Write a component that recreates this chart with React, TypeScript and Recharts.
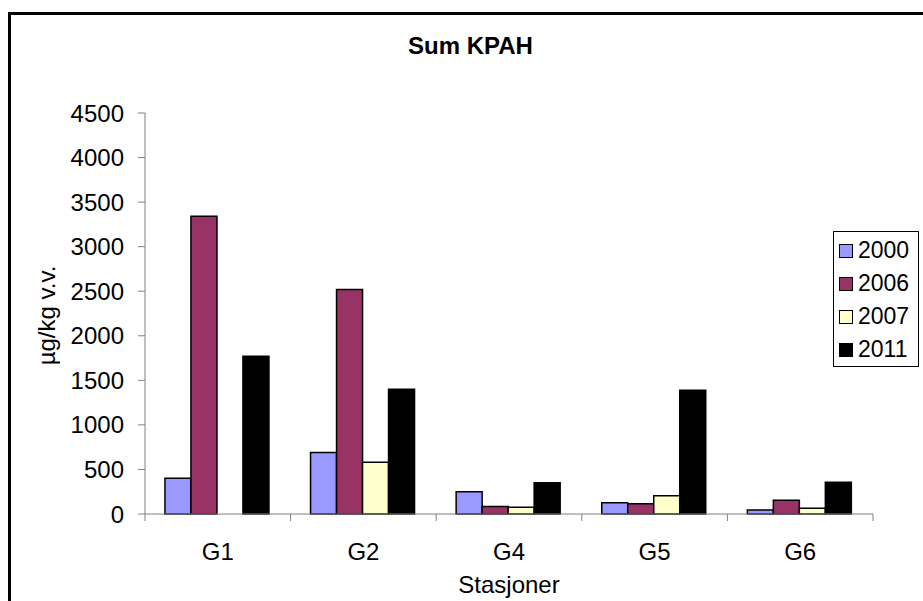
import { Bar, BarChart, Label, Legend, XAxis, YAxis } from "recharts"

const stations = ["G1", "G2", "G4", "G5", "G6"]
const years = ["2000", "2006", "2007", "2011"]
const values2000 = [400, 690, 250, 125, 45]
const values2006 = [3340, 2520, 85, 115, 155]
const values2007 = [null, 580, 75, 205, 65]
const values2011 = [1770, 1400, 350, 1390, 355]
const yTicks = [0, 500, 1000, 1500, 2000, 2500, 3000, 3500, 4000, 4500]
const colors = ["#9999FF", "#993366", "#FFFFCC", "#000000"]

const data = stations.map((station, i) => ({
  station,
  "2000": values2000[i],
  "2006": values2006[i],
  "2007": values2007[i],
  "2011": values2011[i],
}))

const FONT = "'Liberation Sans', Arial, sans-serif"
const AXIS = "#808080"

const StationTick = (props: any) => {
  const { x, y, payload, index, visibleTicksCount } = props
  const half = payload.offset ?? 72.8
  return (
    <g>
      <line x1={x - half} x2={x - half} y1={y - 7} y2={y} stroke={AXIS} />
      {index === visibleTicksCount - 1 && (
        <line x1={x + half} x2={x + half} y1={y - 7} y2={y} stroke={AXIS} />
      )}
      <text x={x} y={y + 39} textAnchor="middle" fontSize={24} fill="#000" fontFamily={FONT}>
        {payload.value}
      </text>
    </g>
  )
}

const YTitle = (props: any) => {
  const vb = props.viewBox || {}
  const cy = vb.height ? vb.y + vb.height / 2 + 2 : 315
  return (
    <text
      x={46}
      y={cy}
      transform={`rotate(-90 46 ${cy})`}
      textAnchor="middle"
      dominantBaseline="central"
      fontSize={24}
      fill="#000"
      fontFamily={FONT}
    >
      µg/kg v.v.
    </text>
  )
}

const XTitle = (props: any) => {
  const vb = props.viewBox || {}
  const cx = vb.width ? vb.x + vb.width / 2 : 509
  return (
    <text x={cx} y={593} textAnchor="middle" fontSize={24} fill="#000" fontFamily={FONT}>
      Stasjoner
    </text>
  )
}

const LegendBox = () => (
  <div
    style={{
      boxSizing: "border-box",
      width: 86,
      height: 136,
      border: "1px solid #000",
      background: "#fff",
      padding: "2px 0 0 5px",
      fontFamily: FONT,
      fontSize: 23,
      color: "#000",
    }}
  >
    {years.map((year, i) => (
      <div key={year} style={{ height: 33, display: "flex", alignItems: "center" }}>
        <span
          style={{
            boxSizing: "border-box",
            width: 14,
            height: 14,
            border: "1px solid #000",
            background: colors[i],
            marginRight: 5,
          }}
        />
        {year}
      </div>
    ))}
  </div>
)

const App = () => {
  return (
    <div
      style={{
        position: "absolute",
        left: 0,
        top: 0,
        width: 923,
        height: 601,
        overflow: "hidden",
        background: "#fff",
      }}
    >
      <div
        style={{
          position: "absolute",
          left: 8,
          top: 12,
          width: 1000,
          height: 700,
          borderLeft: "3px solid #000",
          borderTop: "3px solid #000",
        }}
      />
      <div
        style={{
          position: "absolute",
          left: 370,
          top: 34,
          width: 201,
          textAlign: "center",
          fontFamily: FONT,
          fontWeight: "bold",
          fontSize: 24,
          lineHeight: "24px",
          color: "#000",
        }}
      >
        Sum KPAH
      </div>
      <BarChart
        width={923}
        height={601}
        data={data}
        margin={{ top: 113, right: 50, bottom: 0, left: 85 }}
        barCategoryGap="13.7%"
        barGap={0}
        style={{ fontFamily: FONT }}
      >
        <XAxis
          dataKey="station"
          height={87}
          stroke={AXIS}
          tickLine={false}
          tickSize={7}
          tickMargin={0}
          tick={<StationTick />}
          interval={0}
        >
          <Label content={<XTitle />} />
        </XAxis>
        <YAxis
          width={60}
          domain={[0, 4500]}
          ticks={yTicks}
          stroke={AXIS}
          tickSize={7}
          tickMargin={14}
          tick={{ fill: "#000", fontSize: 24, fontFamily: FONT }}
          interval={0}
        >
          <Label content={<YTitle />} />
        </YAxis>
        <Legend
          layout="horizontal"
          verticalAlign="middle"
          align="center"
          content={<LegendBox />}
          wrapperStyle={{ left: 833, top: 231, width: 86, height: 136 }}
        />
        {years.map((year, i) => (
          <Bar
            key={year}
            dataKey={year}
            fill={colors[i]}
            stroke="#000"
            strokeWidth={1.5}
            isAnimationActive={false}
          />
        ))}
      </BarChart>
    </div>
  )
}

export default App
